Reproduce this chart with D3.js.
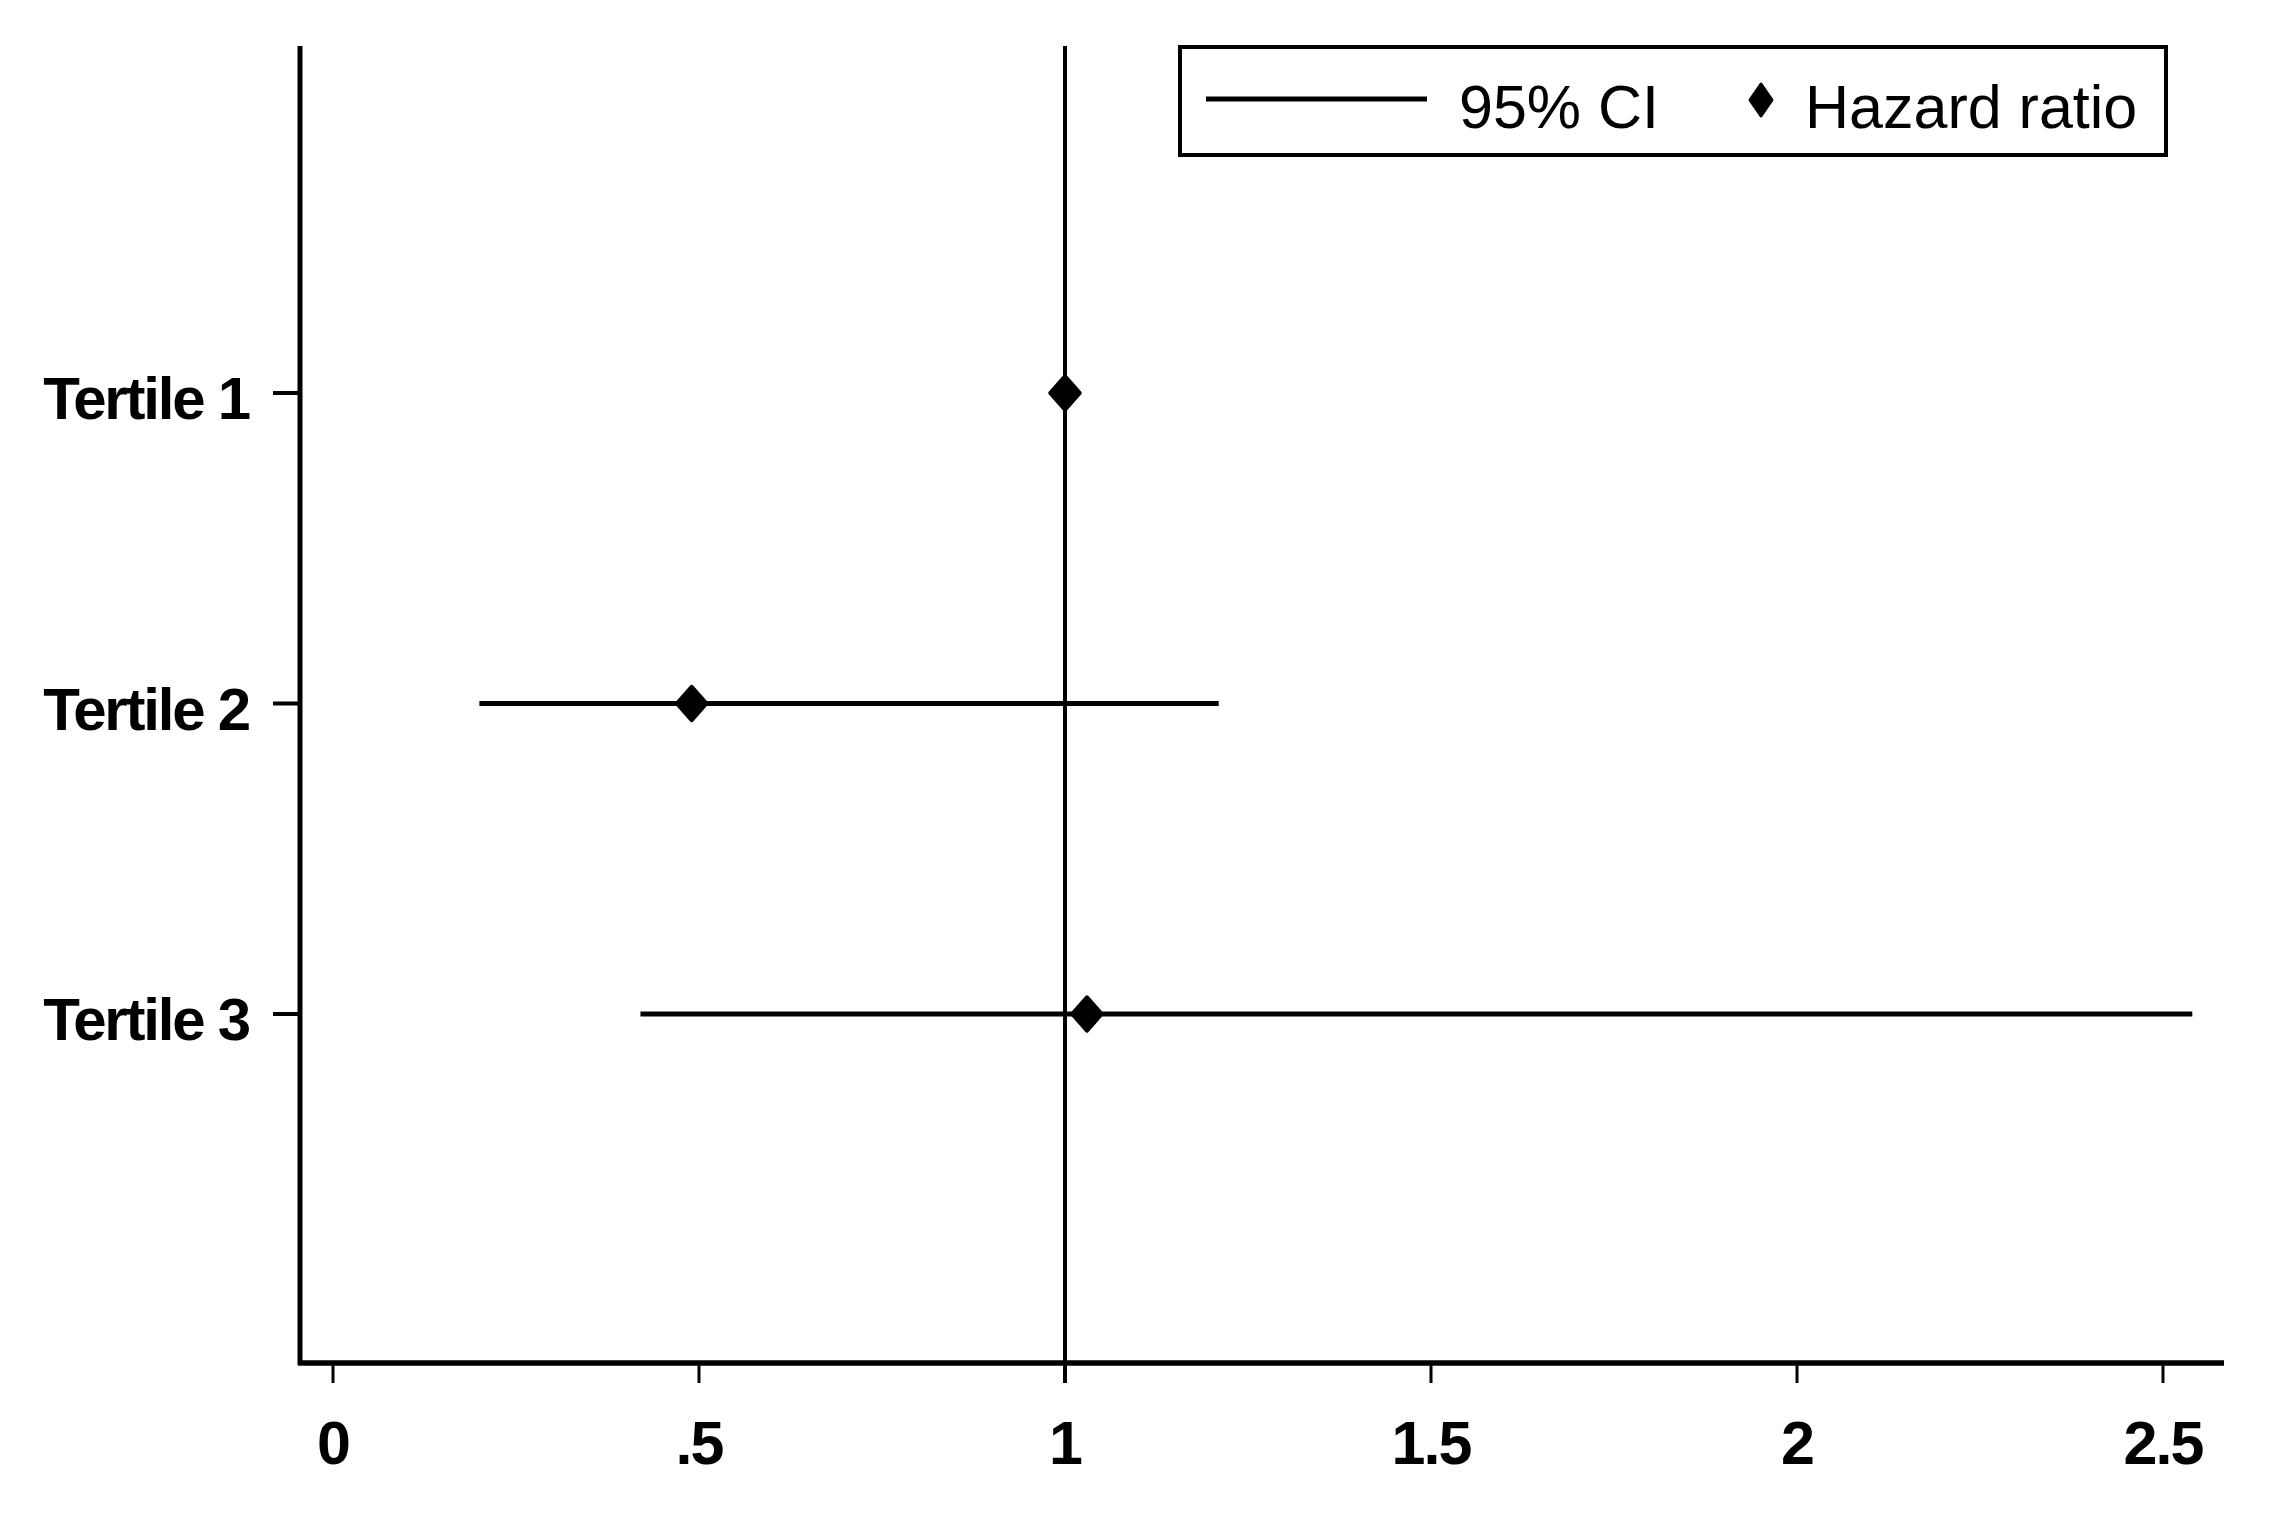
<!DOCTYPE html>
<html>
<head>
<meta charset="utf-8">
<script src="https://cdn.jsdelivr.net/npm/d3@7"></script>
<style>
  html, body { margin: 0; padding: 0; background: #fff; }
  svg { display: block; }
  text { font-family: "Liberation Sans", Arial, sans-serif; fill: #000; }
</style>
</head>
<body>
<script>
// ---- Data ----
const categories = ["Tertile 1", "Tertile 2", "Tertile 3"];
const hazardRatio = [1.0, 0.49, 1.03];
const ciLower = [1.0, 0.20, 0.42];
const ciUpper = [1.0, 1.21, 2.54];
const xTicks = [0, 0.5, 1, 1.5, 2, 2.5];
const xTickLabels = ["0", ".5", "1", "1.5", "2", "2.5"];
const legendLabels = ["95% CI", "Hazard ratio"];
const referenceValue = 1;

// ---- Layout ----
const W = 2274, H = 1528;
const plotLeft = 300, plotRight = 2224, plotTop = 46, plotBottom = 1363;

const svg = d3.select("body").append("svg").attr("width", W).attr("height", H);

const x = d3.scaleLinear().domain([0, 2.5]).range([333, 2163]);
const y = d3.scaleLinear().domain([1, 3]).range([393, 1014]);
const catPos = categories.map((c, i) => i + 1);

function markerPath(cx, cy, hw, hh) {
  const p = d3.path();
  p.moveTo(cx, cy - hh);
  p.lineTo(cx + hw, cy);
  p.lineTo(cx, cy + hh);
  p.lineTo(cx - hw, cy);
  p.closePath();
  return p.toString();
}

// Reference line at HR = 1
svg.append("line")
  .attr("x1", x(referenceValue)).attr("x2", x(referenceValue))
  .attr("y1", plotTop).attr("y2", plotBottom + 20)
  .attr("stroke", "#000").attr("stroke-width", 4);

// Left axis
svg.append("line")
  .attr("x1", plotLeft).attr("x2", plotLeft)
  .attr("y1", plotTop).attr("y2", plotBottom + 2)
  .attr("stroke", "#000").attr("stroke-width", 5);

// Y ticks and labels
const yG = svg.append("g");
categories.forEach((c, i) => {
  const yy = y(catPos[i]);
  yG.append("line")
    .attr("x1", plotLeft - 27).attr("x2", plotLeft)
    .attr("y1", yy).attr("y2", yy)
    .attr("stroke", "#000").attr("stroke-width", 4);
  yG.append("text")
    .attr("x", 249).attr("y", yy + 26)
    .attr("text-anchor", "end")
    .attr("font-size", 60).attr("font-weight", "bold")
    .attr("letter-spacing", -2.2)
    .text(c);
});

// Bottom axis
svg.append("line")
  .attr("x1", plotLeft - 2).attr("x2", plotRight)
  .attr("y1", plotBottom).attr("y2", plotBottom)
  .attr("stroke", "#000").attr("stroke-width", 5.5);

const xG = svg.append("g");
xTicks.forEach((t, i) => {
  xG.append("line")
    .attr("x1", x(t)).attr("x2", x(t))
    .attr("y1", plotBottom).attr("y2", plotBottom + 20)
    .attr("stroke", "#000").attr("stroke-width", 3);
  xG.append("text")
    .attr("x", x(t)).attr("y", 1464)
    .attr("text-anchor", "middle")
    .attr("font-size", 61).attr("font-weight", "bold")
    .attr("letter-spacing", -2)
    .text(xTickLabels[i]);
});

// CI lines
categories.forEach((c, i) => {
  if (ciUpper[i] > ciLower[i]) {
    svg.append("line")
      .attr("x1", x(ciLower[i])).attr("x2", x(ciUpper[i]))
      .attr("y1", y(catPos[i])).attr("y2", y(catPos[i]))
      .attr("stroke", "#000").attr("stroke-width", 5);
  }
});

// Hazard ratio markers
categories.forEach((c, i) => {
  svg.append("path")
    .attr("d", markerPath(x(hazardRatio[i]), y(catPos[i]), 15, 17))
    .attr("fill", "#000").attr("stroke", "#000")
    .attr("stroke-width", 3.5).attr("stroke-linejoin", "round");
});

// Legend
const lg = svg.append("g");
lg.append("rect")
  .attr("x", 1180).attr("y", 47).attr("width", 986).attr("height", 108)
  .attr("fill", "#fff").attr("stroke", "#000").attr("stroke-width", 4);
lg.append("line")
  .attr("x1", 1206).attr("x2", 1427).attr("y1", 99).attr("y2", 99)
  .attr("stroke", "#000").attr("stroke-width", 5);
lg.append("text")
  .attr("x", 1459).attr("y", 128)
  .attr("font-size", 61)
  .text(legendLabels[0]);
lg.append("path")
  .attr("d", markerPath(1761, 100, 11, 16))
  .attr("fill", "#000").attr("stroke", "#000")
  .attr("stroke-width", 3).attr("stroke-linejoin", "round");
lg.append("text")
  .attr("x", 1805).attr("y", 128)
  .attr("font-size", 61)
  .text(legendLabels[1]);
</script>
</body>
</html>
